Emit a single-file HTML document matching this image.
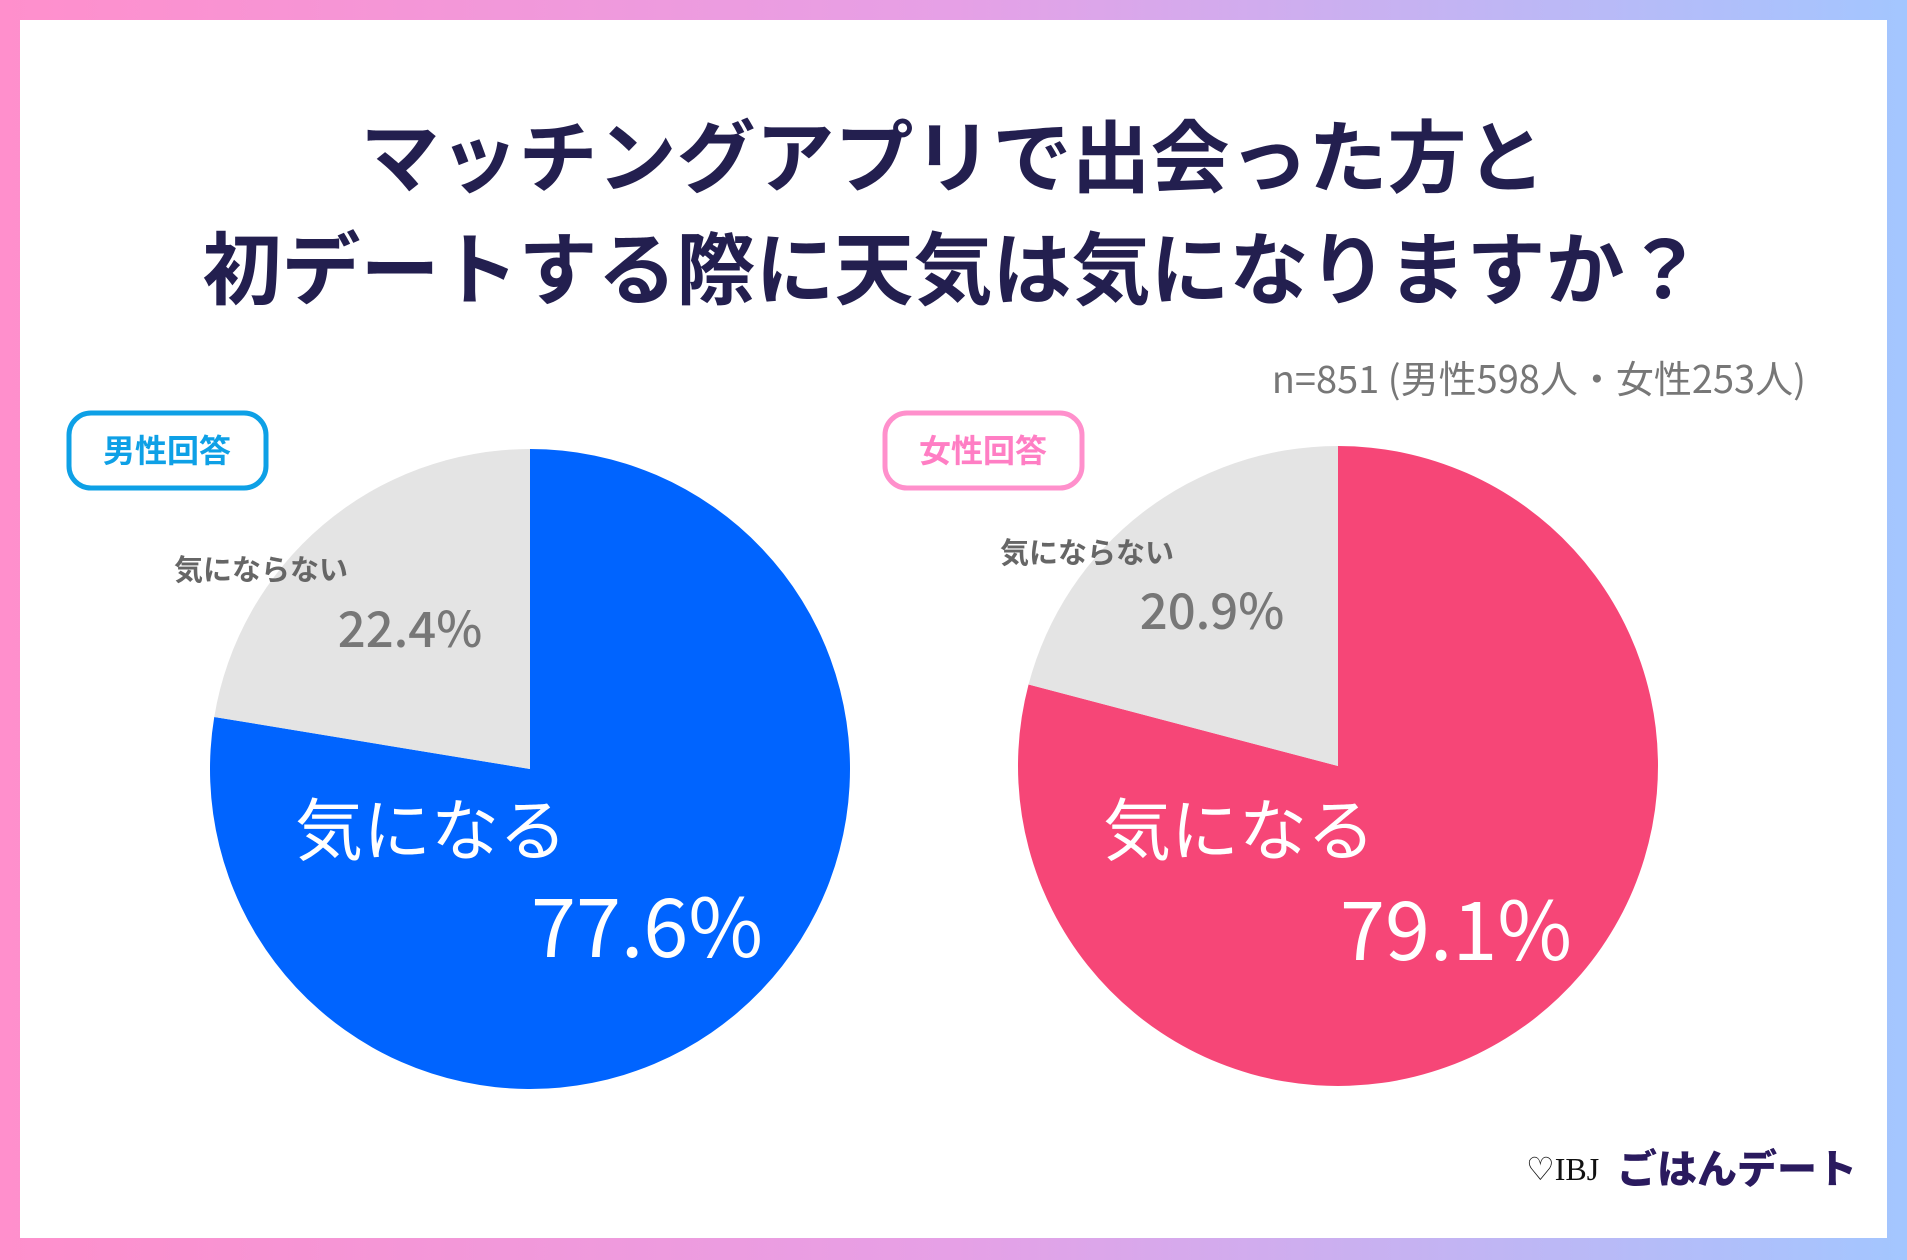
<!DOCTYPE html>
<html><head><meta charset="utf-8"><style>
html,body{margin:0;padding:0;}
body{width:1907px;height:1260px;background:linear-gradient(90deg,#ff8fcc 0%,#e6a0e6 50%,#a3c6ff 100%);position:relative;overflow:hidden;font-family:"Liberation Sans","Noto Sans CJK JP",sans-serif;}
#card{position:absolute;left:20px;top:20px;width:1867px;height:1218px;background:#fff;}
svg{position:absolute;left:0;top:0;}
</style></head><body>
<div id="card"></div>
<svg id="chart" width="1907" height="1260">
<text x="953" y="186" text-anchor="middle" font-size="79" font-weight="bold" fill="#231f4f" font-family="Noto Sans CJK JP, sans-serif">マッチングアプリで出会った方と</text>
<text x="953" y="298" text-anchor="middle" font-size="79" font-weight="bold" fill="#231f4f" font-family="Noto Sans CJK JP, sans-serif">初デートする際に天気は気になりますか？</text>
<text x="1806" y="393" text-anchor="end" font-size="38" fill="#777" font-family="Noto Sans CJK JP, sans-serif">n=851 (男性598人・女性253人)</text>
<rect x="69" y="413" width="197" height="75" rx="22" fill="#fff" stroke="#0ea0e6" stroke-width="5"/>
<text x="167" y="462" text-anchor="middle" font-size="32" font-weight="bold" fill="#0ea0e6" font-family="Noto Sans CJK JP, sans-serif">男性回答</text>
<rect x="885" y="413" width="197" height="75" rx="22" fill="#fff" stroke="#ff90cc" stroke-width="5"/>
<text x="983" y="462" text-anchor="middle" font-size="32" font-weight="bold" fill="#ff7ec4" font-family="Noto Sans CJK JP, sans-serif">女性回答</text>
<g id="pies"></g>
<g>
<text x="1526" y="1180" font-size="32" fill="#111" font-family="Liberation Serif, serif">♡IBJ</text>
<text x="1617" y="1183" font-size="40" font-weight="900" fill="#2a1a5e" font-family="Noto Sans CJK JP, sans-serif">ごはんデート</text>
</g>
</svg>
<script>
const categories = ['気になる','気にならない'];
const maleValues = [77.6, 22.4];
const femaleValues = [79.1, 20.9];
const pieDefs = [
 {name:'male', values:maleValues, cx:530, cy:769, r:320, colors:['#0064ff','#e4e4e4'],
  labels:[[295,855,531,957],[174,580,410,647]]},
 {name:'female', values:femaleValues, cx:1338, cy:766, r:320, colors:['#f64677','#e4e4e4'],
  labels:[[1103,855,1340,960],[1000,563,1212,629]]}
];
const NS='http://www.w3.org/2000/svg';
const g=document.getElementById('pies');
function pt(cx,cy,r,f){const a=f*2*Math.PI;return [cx+r*Math.sin(a),cy-r*Math.cos(a)];}
pieDefs.forEach(p=>{
  const total=p.values.reduce((a,b)=>a+b,0);
  let acc=0;
  p.values.forEach((v,i)=>{
    const f0=acc/total, f1=(acc+v)/total; acc+=v;
    const [x0,y0]=pt(p.cx,p.cy,p.r,f0),[x1,y1]=pt(p.cx,p.cy,p.r,f1);
    const path=document.createElementNS(NS,'path');
    path.setAttribute('d',`M${p.cx},${p.cy}L${x0},${y0}A${p.r},${p.r} 0 ${f1-f0>0.5?1:0} 1 ${x1},${y1}Z`);
    path.setAttribute('fill',p.colors[i]);
    
    
    g.appendChild(path);
  });
  p.values.forEach((v,i)=>{
    const L=p.labels[i];
    const t1=document.createElementNS(NS,'text');
    t1.textContent=categories[i];
    t1.setAttribute('x',L[0]);t1.setAttribute('y',L[1]);
    t1.setAttribute('font-family','Noto Sans CJK JP, sans-serif');
    t1.setAttribute('font-size',i===0?68:29);
    if(i===1)t1.setAttribute('font-weight','bold');
    t1.setAttribute('fill',i===0?'#fff':'#666');
    
    
    g.appendChild(t1);
    const t2=document.createElementNS(NS,'text');
    t2.textContent=v.toFixed(1)+'%';
    t2.setAttribute('x',L[2]);t2.setAttribute('y',L[3]);
    t2.setAttribute('font-family','Noto Sans CJK JP, sans-serif');
    t2.setAttribute('font-size',i===0?81:49);
    if(i===1)t2.setAttribute('font-weight','500');
    t2.setAttribute('text-anchor',i===0?'start':'middle');
    t2.setAttribute('fill',i===0?'#fff':'#777');
    
    
    g.appendChild(t2);
  });
});
</script>
</body></html>
